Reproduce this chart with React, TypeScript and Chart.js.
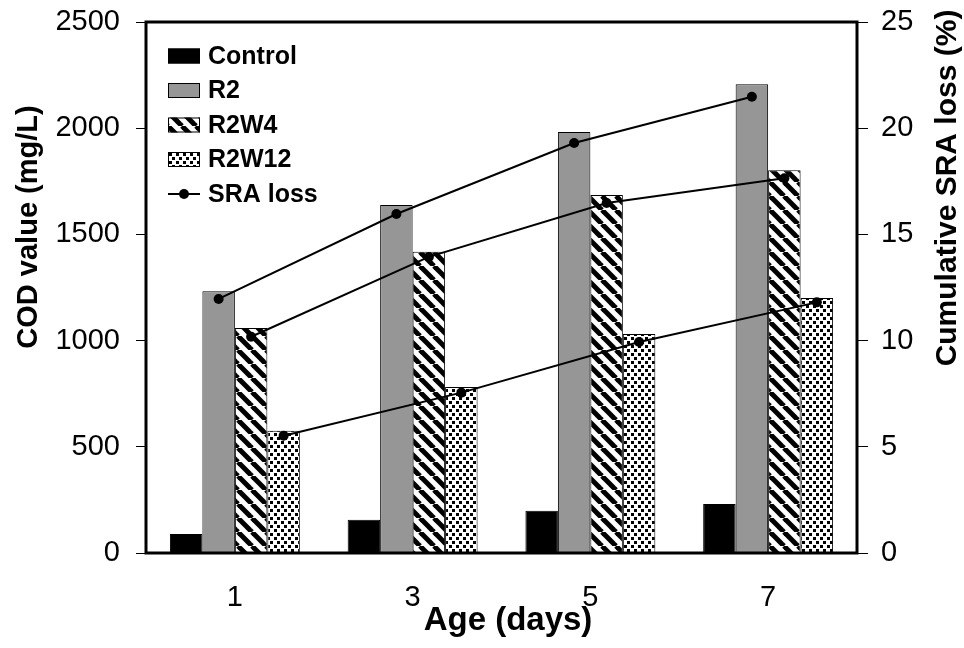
import React, { useEffect, useRef } from "react";
import { Chart, registerables } from "chart.js";

Chart.register(...registerables);

// ---- Data ----
const categories = ["1", "3", "5", "7"];
const controlCOD = [89, 157, 199, 231];
const r2COD = [1232, 1638, 1982, 2207];
const r2w4COD = [1059, 1418, 1685, 1802];
const r2w12COD = [576, 781, 1031, 1200];
const sraLossR2 = [11.96, 15.96, 19.3, 21.48];
const sraLossR2W4 = [10.18, 13.94, 16.48, 17.64];
const sraLossR2W12 = [5.52, 7.55, 9.93, 11.8];

const leftAxisMin = 0;
const leftAxisMax = 2500;
const leftAxisStep = 500;
const rightAxisMin = 0;
const rightAxisMax = 25;
const rightAxisStep = 5;

const xTitle = "Age (days)";
const leftTitle = "COD value (mg/L)";
const rightTitle = "Cumulative SRA loss (%)";

const FONT = "'Liberation Sans', Arial, Helvetica, sans-serif";

function makeStripePattern(ctx: CanvasRenderingContext2D): CanvasPattern | string {
  const s = 14;
  const c = document.createElement("canvas");
  c.width = s;
  c.height = s;
  const g = c.getContext("2d");
  if (!g) return "#888";
  g.fillStyle = "#fff";
  g.fillRect(0, 0, s, s);
  g.strokeStyle = "#000";
  g.lineWidth = 5;
  for (const k of [-1, 0, 1]) {
    g.beginPath();
    g.moveTo(k * s, 0);
    g.lineTo(k * s + s, s);
    g.stroke();
  }
  return ctx.createPattern(c, "repeat") || "#888";
}

function makeDotPattern(ctx: CanvasRenderingContext2D): CanvasPattern | string {
  const w = 7;
  const h = 8;
  const c = document.createElement("canvas");
  c.width = w;
  c.height = h;
  const g = c.getContext("2d");
  if (!g) return "#ccc";
  g.fillStyle = "#fff";
  g.fillRect(0, 0, w, h);
  g.fillStyle = "#000";
  g.fillRect(1, 1, 3, 3);
  g.fillRect(4, 5, 3, 3);
  return ctx.createPattern(c, "repeat") || "#ccc";
}

// Move each line point onto the centre of its matching bar
const alignPointsPlugin = {
  id: "alignPoints",
  afterDatasetsUpdate(chart: any) {
    chart.data.datasets.forEach((ds: any, i: number) => {
      if (ds.type !== "line" || ds.linkedBar == null) return;
      const barMeta = chart.getDatasetMeta(ds.linkedBar);
      const lineMeta = chart.getDatasetMeta(i);
      lineMeta.data.forEach((pt: any, j: number) => {
        const b = barMeta.data[j];
        if (b) pt.x = b.x;
      });
    });
  },
};

const framePlugin = {
  id: "frame",
  afterDatasetsDraw(chart: any) {
    const { ctx, chartArea } = chart;
    ctx.save();
    ctx.strokeStyle = "#000";
    ctx.lineWidth = 3;
    ctx.strokeRect(
      chartArea.left,
      chartArea.top,
      chartArea.right - chartArea.left,
      chartArea.bottom - chartArea.top
    );
    ctx.restore();
  },
};

const legendPlugin = {
  id: "customLegend",
  afterDraw(chart: any) {
    const { ctx, chartArea } = chart;
    const x0 = chartArea.left + 22;
    const y0 = chartArea.top + 34;
    const step = 34.5;
    const seen = new Set<string>();
    let row = 0;
    ctx.save();
    chart.data.datasets.forEach((ds: any) => {
      if (seen.has(ds.label)) return;
      seen.add(ds.label);
      const y = y0 + row * step;
      if (ds.type === "line") {
        ctx.strokeStyle = "#000";
        ctx.lineWidth = 2;
        ctx.beginPath();
        ctx.moveTo(x0, y);
        ctx.lineTo(x0 + 32, y);
        ctx.stroke();
        ctx.fillStyle = "#000";
        ctx.beginPath();
        ctx.arc(x0 + 16, y, 5, 0, Math.PI * 2);
        ctx.fill();
      } else {
        ctx.fillStyle = ds.backgroundColor;
        ctx.fillRect(x0, y - 7.5, 32, 15);
        ctx.strokeStyle = "#000";
        ctx.lineWidth = 1;
        ctx.strokeRect(x0 + 0.5, y - 7, 31, 14);
      }
      ctx.fillStyle = "#000";
      ctx.font = `bold 25px ${FONT}`;
      ctx.textAlign = "left";
      ctx.textBaseline = "middle";
      ctx.fillText(ds.label, x0 + 40, y + 1);
      row++;
    });
    ctx.restore();
  },
};

const titlesPlugin = {
  id: "axisTitles",
  afterDraw(chart: any) {
    const { ctx } = chart;
    ctx.save();
    ctx.fillStyle = "#000";
    ctx.textAlign = "center";
    ctx.textBaseline = "middle";
    // bottom
    ctx.font = `bold 33px ${FONT}`;
    ctx.fillText(xTitle, 508, 621);
    // left
    ctx.save();
    ctx.translate(29, 227);
    ctx.rotate(-Math.PI / 2);
    ctx.font = `bold 29px ${FONT}`;
    ctx.fillText(leftTitle, 0, 0);
    ctx.restore();
    // right
    ctx.save();
    ctx.translate(948, 188);
    ctx.rotate(-Math.PI / 2);
    ctx.font = `bold 30px ${FONT}`;
    ctx.fillText(rightTitle, 0, 0);
    ctx.restore();
    ctx.restore();
  },
};

export default function App() {
  const canvasRef = useRef<HTMLCanvasElement | null>(null);

  useEffect(() => {
    const canvas = canvasRef.current;
    if (!canvas) return;
    const ctx = canvas.getContext("2d");
    if (!ctx) return;
    const stripes = makeStripePattern(ctx);
    const dots = makeDotPattern(ctx);

    const barCommon = {
      type: "bar" as const,
      borderColor: "#000",
      borderWidth: 1,
      barPercentage: 1,
      categoryPercentage: 0.731,
      yAxisID: "y",
      order: 2,
    };
    const lineCommon = {
      type: "line" as const,
      label: "SRA loss",
      borderColor: "#000",
      backgroundColor: "#000",
      borderWidth: 2,
      pointRadius: 5,
      pointBackgroundColor: "#000",
      pointBorderWidth: 0,
      tension: 0,
      fill: false,
      yAxisID: "y1",
      order: 0,
    };

    const tickFont = { family: FONT, size: 29 };
    const noPad = (s: any) => {
      s.paddingTop = 0;
      s.paddingBottom = 0;
    };

    const chart = new Chart(ctx, {
      type: "bar",
      data: {
        labels: categories,
        datasets: [
          { ...barCommon, label: "Control", data: controlCOD, backgroundColor: "#000" },
          { ...barCommon, label: "R2", data: r2COD, backgroundColor: "#969696" },
          { ...barCommon, label: "R2W4", data: r2w4COD, backgroundColor: stripes },
          { ...barCommon, label: "R2W12", data: r2w12COD, backgroundColor: dots },
          { ...lineCommon, data: sraLossR2, linkedBar: 1 },
          { ...lineCommon, data: sraLossR2W4, linkedBar: 2 },
          { ...lineCommon, data: sraLossR2W12, linkedBar: 3 },
        ] as any,
      },
      options: {
        animation: false,
        responsive: true,
        maintainAspectRatio: false,
        layout: { padding: { top: 22, left: 0, right: 0, bottom: 0 } },
        plugins: {
          legend: { display: false },
          tooltip: { enabled: false },
          title: { display: false },
        },
        scales: {
          x: {
            type: "category",
            grid: { display: false, drawTicks: false },
            border: { display: false },
            ticks: { font: tickFont, color: "#000", padding: 28 },
            afterFit: (s: any) => {
              s.height = 95;
              s.paddingLeft = 0;
              s.paddingRight = 0;
            },
          },
          y: {
            type: "linear",
            position: "left",
            min: leftAxisMin,
            max: leftAxisMax,
            ticks: {
              stepSize: leftAxisStep,
              font: tickFont,
              color: "#000",
              padding: 16,
              callback: (v: any) => String(v),
            },
            grid: {
              drawOnChartArea: false,
              drawTicks: true,
              tickLength: 10,
              color: "#000",
              lineWidth: 1,
            },
            border: { display: false },
            afterFit: (s: any) => {
              s.width = 146;
              noPad(s);
            },
          },
          y1: {
            type: "linear",
            position: "right",
            min: rightAxisMin,
            max: rightAxisMax,
            ticks: {
              stepSize: rightAxisStep,
              font: tickFont,
              color: "#000",
              padding: 13,
              callback: (v: any) => String(v),
            },
            grid: {
              drawOnChartArea: false,
              drawTicks: true,
              tickLength: 11,
              color: "#000",
              lineWidth: 1,
            },
            border: { display: false },
            afterFit: (s: any) => {
              s.width = 964 - 857;
              noPad(s);
            },
          },
        },
      } as any,
      plugins: [alignPointsPlugin, framePlugin, legendPlugin, titlesPlugin],
    });

    return () => {
      chart.destroy();
    };
  }, []);

  return (
    <div
      style={{
        position: "fixed",
        left: 0,
        top: 0,
        width: "964px",
        height: "648px",
        background: "#fff",
      }}
    >
      <canvas ref={canvasRef} />
    </div>
  );
}
